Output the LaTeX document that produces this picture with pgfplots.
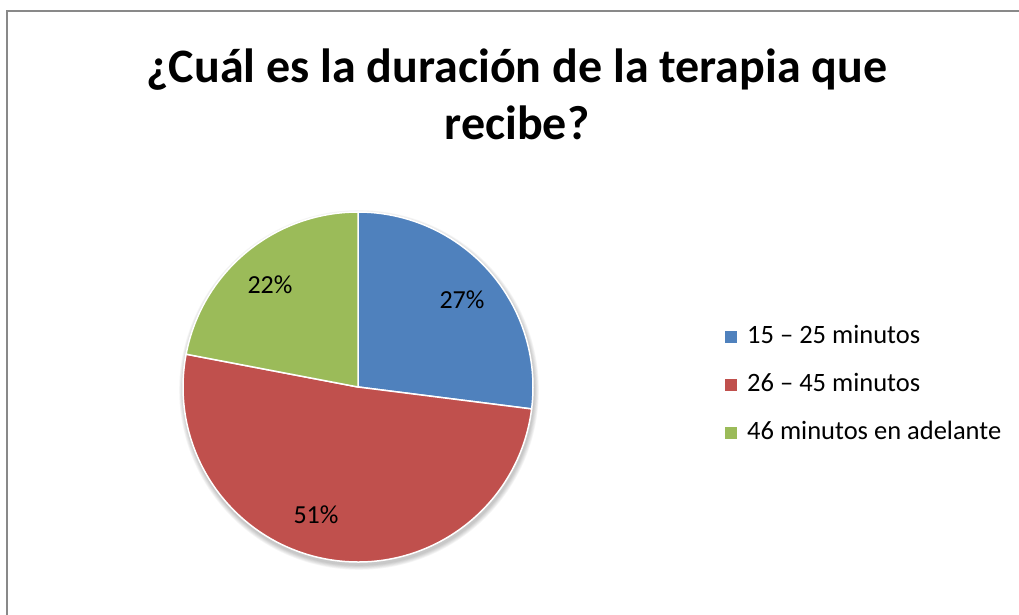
\documentclass[border=0pt]{standalone}
\usepackage{pgfplots}
\pgfplotsset{compat=1.18}
\usepackage{fontspec}
\setmainfont{Carlito}
\definecolor{c1}{HTML}{4F81BD}
\definecolor{c2}{HTML}{C0504D}
\definecolor{c3}{HTML}{9BBB59}
\definecolor{framec}{HTML}{898989}

% one slice: colour, share before it (%), own share (%)
\newcommand{\slice}[3]{%
  \fill[#1, draw=white, line width=1.5pt, line join=round]
    (axis cs:358,228) -- ++({90-3.6*#2}:175pt)
    arc[start angle={90-3.6*#2}, delta angle={-3.6*#3}, radius=175pt] -- cycle;}

\begin{document}
\begin{tikzpicture}
\begin{axis}[
    scale only axis,
    width=1019pt, height=615pt,
    xmin=0, xmax=1019, ymin=0, ymax=615,
    hide axis, clip=false,
    legend style={at={(axis cs:722,230)}, anchor=west, draw=none, fill=none,
      font=\fontsize{26.5}{30}\selectfont, row sep=25pt, column sep=10pt,
      nodes={inner sep=0pt, text height=18pt, text depth=5pt}},
    legend cell align=left,
    legend image code/.code={\fill[#1, draw=none] (0pt,-6pt) rectangle (12pt,6pt);},
]
% frame
\draw[framec, line width=2pt] (axis cs:7,-20) |- (axis cs:1040,604);

% soft shadow
\pgfplotsinvokeforeach{1,...,6}{
  \fill[black, opacity=0.04] (axis cs:359,225) circle[radius={175pt+#1*0.8pt}];
}

\addlegendimage{fill=c1}\addlegendentry{15 – 25 minutos}
\addlegendimage{fill=c2}\addlegendentry{26 – 45 minutos}
\addlegendimage{fill=c3}\addlegendentry{46 minutos en adelante}

\slice{c1}{0}{27}
\slice{c2}{27}{51}
\slice{c3}{78}{22}

\node[font=\fontsize{26}{30}\selectfont] at (axis cs:462,315) {27\%};
\node[font=\fontsize{26}{30}\selectfont] at (axis cs:316,100) {51\%};
\node[font=\fontsize{26}{30}\selectfont] at (axis cs:270,330) {22\%};

\node[align=center, anchor=base, font=\fontsize{48}{57}\selectfont\bfseries]
  at (axis cs:517,475) {¿Cuál es la duración de la terapia que\\recibe?};
\end{axis}
\pgfresetboundingbox
\path (0,0) rectangle (1019pt,615pt);
\end{tikzpicture}
\end{document}
